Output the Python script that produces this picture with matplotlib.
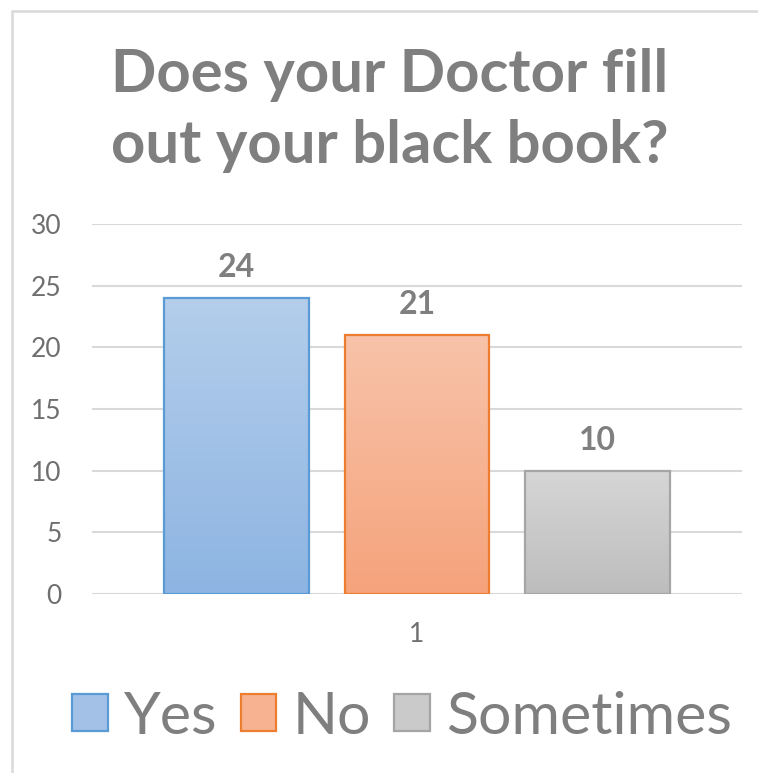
import matplotlib
matplotlib.use("Agg")
import matplotlib.pyplot as plt
import numpy as np
from matplotlib.patches import Rectangle, Patch
from matplotlib.colors import LinearSegmentedColormap

plt.rcParams['font.family'] = ['Lato', 'DejaVu Sans']

title_lines = ["Does your Doctor fill", "out your black book?"]
categories = ["1"]
series = ["Yes", "No", "Sometimes"]
values = [24, 21, 10]
yticks = [0, 5, 10, 15, 20, 25, 30]

top_colors = ["#B4CEEB", "#F8C3AA", "#D6D6D6"]
bottom_colors = ["#8DB4E2", "#F5A37B", "#BDBDBD"]
mid_colors = ["#A3C1E7", "#F7B292", "#CACACA"]
edge_colors = ["#5B9BD5", "#ED7D31", "#A5A5A5"]

W, H = 758, 773
fig = plt.figure(figsize=(W / 100, H / 100), dpi=100)
ax = fig.add_axes([92 / W, 1 - 594 / H, 650 / W, 370 / H])

width = 0.223
offsets = [-0.2777, 0.0, 0.2777]
grad = np.linspace(0, 1, 256).reshape(-1, 1)
for i, (name, v) in enumerate(zip(series, values)):
    x = offsets[i]
    bar = ax.bar(x, v, width, facecolor='none', edgecolor=edge_colors[i],
                 linewidth=1.6, zorder=4)[0]
    cmap = LinearSegmentedColormap.from_list('g%d' % i, [bottom_colors[i], top_colors[i]])
    im = ax.imshow(grad, cmap=cmap, extent=[x - width / 2, x + width / 2, 0, v],
                   origin='lower', aspect='auto', zorder=3, interpolation='bilinear')
    im.set_clip_path(bar)
    ax.annotate(str(v), (x, v), xytext=(0, 15), textcoords='offset points',
                ha='center', va='baseline', fontsize=23, fontweight='bold',
                color='#7F7F7F')

ax.set_xlim(-0.5, 0.5)
ax.set_ylim(0, 30)
ax.set_yticks(yticks)
ax.set_xticks([0])
ax.set_xticklabels(categories)
ax.tick_params(axis='both', length=0, labelsize=19, labelcolor='#6F6F6F')
ax.tick_params(axis='y', pad=22)
ax.tick_params(axis='x', pad=20)
for s in ax.spines.values():
    s.set_visible(False)
ax.yaxis.grid(True, color='#D9D9D9', linewidth=1.5, zorder=0)
ax.set_axisbelow(True)

# title
fig.text(390 / W, 1 - 92 / H, title_lines[0], ha='center', va='baseline',
         fontsize=43, fontweight='bold', color='#7F7F7F')
fig.text(390 / W, 1 - 163 / H, title_lines[1], ha='center', va='baseline',
         fontsize=43, fontweight='bold', color='#7F7F7F')

# border
fig.patches.append(Rectangle((12 / W, -0.1), 1.2, 1 - 11 / H + 0.1,
                             transform=fig.transFigure, fill=False,
                             edgecolor='#D9D9D9', linewidth=1.8))

handles = [Patch(facecolor=mid_colors[i], edgecolor=edge_colors[i], linewidth=1.6)
           for i in range(len(series))]
fig.legend(handles, series, loc='center', bbox_to_anchor=(402 / W, 1 - 717 / H),
           ncol=3, frameon=False, fontsize=42.5, handlelength=0.6, handleheight=0.6,
           handletextpad=0.27, columnspacing=0.4, labelcolor='#7F7F7F',
           borderpad=0, borderaxespad=0)

fig.savefig("out.png", dpi=100)
